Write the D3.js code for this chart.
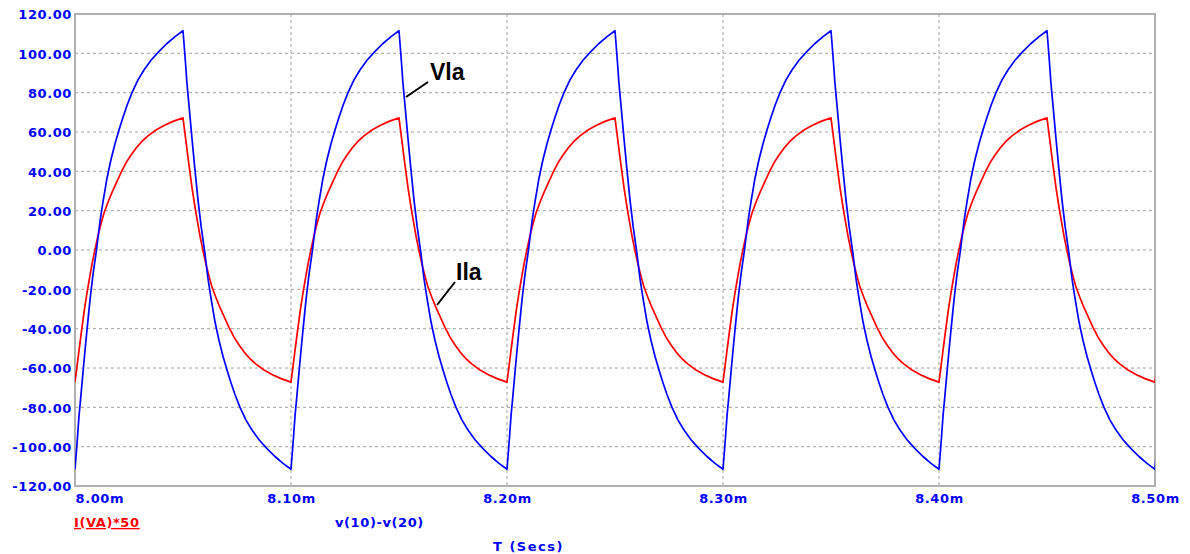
<!DOCTYPE html>
<html>
<head>
<meta charset="utf-8">
<script src="https://cdn.jsdelivr.net/npm/d3@7"></script>
<style>
  html, body { margin: 0; padding: 0; background: #ffffff; }
  svg { display: block; }
  .tick text {
    font-family: "DejaVu Sans", sans-serif;
    font-weight: bold;
    font-size: 13px;
    fill: #0000ff;
    letter-spacing: 0.6px;
  }
</style>
</head>
<body>
<svg id="chart" width="1190" height="554"></svg>
<script>
// Time axis (ms) and its labels
const timeTicksMs = [8.00, 8.10, 8.20, 8.30, 8.40, 8.50];
const timeTickLabels = ["8.00m", "8.10m", "8.20m", "8.30m", "8.40m", "8.50m"];

// Value axis and its labels
const valueTicks = [120, 100, 80, 60, 40, 20, 0, -20, -40, -60, -80, -100, -120];
const valueTickLabels = ["120.00", "100.00", "80.00", "60.00", "40.00", "20.00", "0.00",
                         "-20.00", "-40.00", "-60.00", "-80.00", "-100.00", "-120.00"];

// Start of each 0.1 ms switching cycle in the steady-state window
const cycleStartsMs = [8.0, 8.1, 8.2, 8.3, 8.4, 8.5];

// v(10)-v(20): one cycle, time offset in microseconds -> volts
const vlaOffsetsUs = [0, 0.93, 1.85, 2.78, 4.17, 5.56, 6.94, 8.33, 9.95, 11.57, 12.96, 14.81,
                      16.67, 18.52, 20.37, 22.22, 24.07, 26.39, 29.17, 31.94, 35.19, 38.89,
                      42.59, 46.30,
                      50.00, 50.93, 51.85, 52.78, 54.17, 55.56, 56.94, 58.33, 59.95, 61.57,
                      62.96, 64.81, 66.67, 68.52, 70.37, 72.22, 74.07, 76.39, 79.17, 81.94,
                      85.19, 88.89, 92.59, 96.30];
const vlaCycle = [-111.5, -98.5, -84.5, -73.5, -56.5, -40.5, -25.5, -12.5, 0, 14.5, 24.5, 36.5,
                  46, 54, 61, 67.5, 73.5, 80, 86.5, 91.5, 96.5, 101,
                  105, 108.5,
                  111.5, 98.5, 84.5, 73.5, 56.5, 40.5, 25.5, 12.5, 0, -14.5,
                  -24.5, -36.5, -46, -54, -61, -67.5, -73.5, -80, -86.5, -91.5,
                  -96.5, -101, -105, -108.5];

// I(VA)*50: one cycle, time offset in microseconds -> scaled current
const ilaOffsetsUs = [0, 0.93, 1.85, 2.78, 4.17, 5.79, 7.87, 9.26, 10.65, 12.04, 13.43, 15.28,
                      17.13, 18.98, 21.30, 23.61, 25.93, 28.24, 31.02, 33.80, 37.50, 41.20,
                      45.37,
                      50.00, 50.93, 51.85, 52.78, 54.17, 55.79, 57.87, 59.26, 60.65, 62.04,
                      63.43, 65.28, 67.13, 68.98, 71.30, 73.61, 75.93, 78.24, 81.02, 83.80,
                      87.50, 91.20, 95.37];
const ilaCycle = [-67.2, -59.2, -51.2, -43.2, -31.7, -20.2, -7.2, 0.3, 7.3, 13.3, 18.8, 24.3,
                  29.3, 33.8, 39.3, 44.3, 48.3, 51.8, 55.3, 58, 61, 63.3,
                  65.4,
                  67.2, 59.2, 51.2, 43.2, 31.7, 20.2, 7.2, -0.3, -7.3, -13.3,
                  -18.8, -24.3, -29.3, -33.8, -39.3, -44.3, -48.3, -51.8, -55.3, -58,
                  -61, -63.3, -65.4];

const plot = { left: 75, top: 14, right: 1155, bottom: 486 };

const svg = d3.select("#chart");

const x = d3.scaleLinear().domain([8.0, 8.5]).range([plot.left, plot.right]);
const y = d3.scaleLinear().domain([-120, 120]).range([plot.bottom, plot.top]);

// Build the traces by laying each measured cycle at its start time
function buildTrace(offsets, values) {
  const pts = [];
  cycleStartsMs.forEach(t0 => {
    offsets.forEach((o, i) => pts.push([t0 + o / 1000, values[i]]));
  });
  return pts;
}
const vlaTrace = buildTrace(vlaOffsetsUs, vlaCycle);
const ilaTrace = buildTrace(ilaOffsetsUs, ilaCycle);

// Grid
const grid = svg.append("g");
grid.selectAll("line.h")
  .data(valueTicks.filter(v => v > -120 && v < 120))
  .join("line")
  .attr("x1", plot.left).attr("x2", plot.right)
  .attr("y1", d => y(d)).attr("y2", d => y(d))
  .attr("stroke", "#a0a0a0").attr("stroke-width", 1)
  .attr("stroke-dasharray", "3,3");
grid.selectAll("line.v")
  .data(timeTicksMs.filter(t => t > 8.0 && t < 8.5))
  .join("line")
  .attr("x1", d => x(d)).attr("x2", d => x(d))
  .attr("y1", plot.top).attr("y2", plot.bottom)
  .attr("stroke", "#a0a0a0").attr("stroke-width", 1)
  .attr("stroke-dasharray", "3,3");

// Frame
svg.append("rect")
  .attr("x", plot.left).attr("y", plot.top)
  .attr("width", plot.right - plot.left).attr("height", plot.bottom - plot.top)
  .attr("fill", "none").attr("stroke", "#b0b0b0").attr("stroke-width", 2);

// Axes
const yAxis = d3.axisLeft(y)
  .tickValues(valueTicks)
  .tickFormat((d, i) => valueTickLabels[i])
  .tickSize(0).tickPadding(3);
svg.append("g")
  .attr("transform", `translate(${plot.left},0)`)
  .call(yAxis)
  .call(g => g.select(".domain").remove())
  .selectAll("text").attr("dy", "0.36em");

const xAxis = d3.axisBottom(x)
  .tickValues(timeTicksMs)
  .tickFormat((d, i) => timeTickLabels[i])
  .tickSize(0).tickPadding(8);
svg.append("g")
  .attr("transform", `translate(0,${plot.bottom})`)
  .call(xAxis)
  .call(g => g.select(".domain").remove())
  .selectAll("text")
  .attr("text-anchor", (d, i) => i === 0 ? "start" : "middle")
  .attr("dy", "0.71em");

// Traces
svg.append("clipPath").attr("id", "plot-clip")
  .append("rect")
  .attr("x", plot.left).attr("y", plot.top)
  .attr("width", plot.right - plot.left).attr("height", plot.bottom - plot.top);

const line = d3.line().x(d => x(d[0])).y(d => y(d[1]));
const traces = svg.append("g").attr("clip-path", "url(#plot-clip)");
traces.append("path").datum(ilaTrace)
  .attr("d", line).attr("fill", "none")
  .attr("stroke", "#ff0000").attr("stroke-width", 1.7)
  .attr("stroke-linejoin", "round");
traces.append("path").datum(vlaTrace)
  .attr("d", line).attr("fill", "none")
  .attr("stroke", "#0000ff").attr("stroke-width", 1.7)
  .attr("stroke-linejoin", "round");

// Trace annotations
const notes = svg.append("g");
notes.append("line")
  .attr("x1", 428).attr("y1", 82).attr("x2", 406).attr("y2", 97)
  .attr("stroke", "#000").attr("stroke-width", 2);
notes.append("text")
  .attr("x", 430).attr("y", 80)
  .attr("font-family", "Liberation Sans, Arial, sans-serif")
  .attr("font-weight", "bold").attr("font-size", 23)
  .attr("fill", "#000").text("Vla");
notes.append("line")
  .attr("x1", 455).attr("y1", 282).attr("x2", 437).attr("y2", 305)
  .attr("stroke", "#000").attr("stroke-width", 2);
notes.append("text")
  .attr("x", 456).attr("y", 280)
  .attr("font-family", "Liberation Sans, Arial, sans-serif")
  .attr("font-weight", "bold").attr("font-size", 23)
  .attr("fill", "#000").text("Ila");

// Trace legend and axis title
const legendFont = { family: "DejaVu Sans, sans-serif", size: 13 };
svg.append("text")
  .attr("x", 74).attr("y", 527)
  .attr("font-family", legendFont.family).attr("font-weight", "bold")
  .attr("font-size", legendFont.size).attr("letter-spacing", "0.6px")
  .attr("fill", "#ff0000").attr("text-decoration", "underline")
  .text("I(VA)*50");
svg.append("text")
  .attr("x", 335).attr("y", 527)
  .attr("font-family", legendFont.family).attr("font-weight", "bold")
  .attr("font-size", legendFont.size).attr("letter-spacing", "0.6px")
  .attr("fill", "#0000ff")
  .text("v(10)-v(20)");
svg.append("text")
  .attr("x", 493).attr("y", 551)
  .attr("font-family", legendFont.family).attr("font-weight", "bold")
  .attr("font-size", legendFont.size).attr("letter-spacing", "1.5px")
  .attr("fill", "#0000ff")
  .text("T (Secs)");
</script>
</body>
</html>
